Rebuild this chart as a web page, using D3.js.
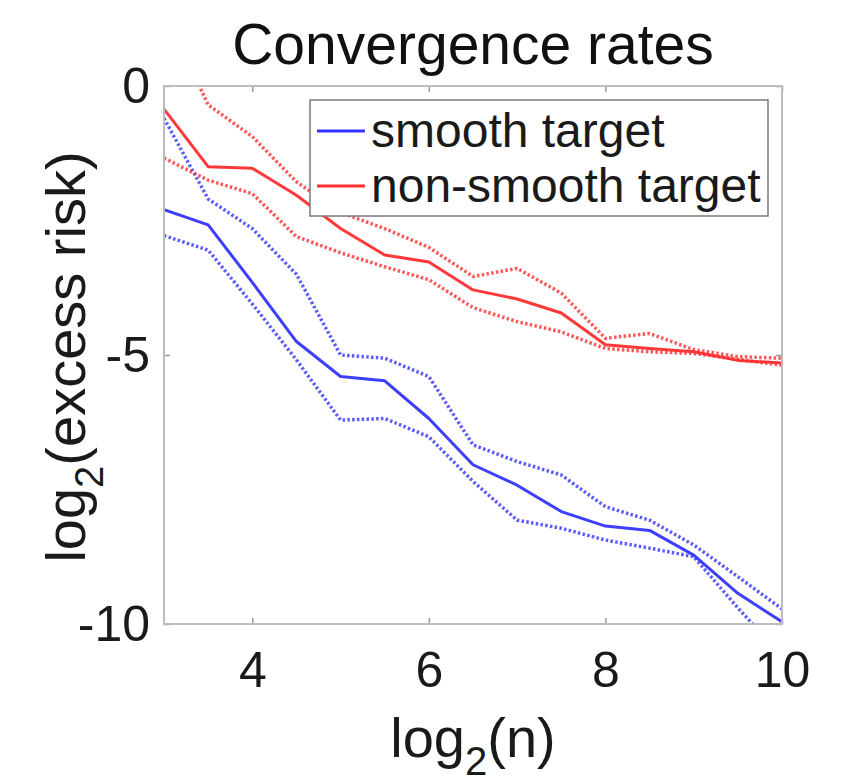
<!DOCTYPE html>
<html>
<head>
<meta charset="utf-8">
<script src="https://cdn.jsdelivr.net/npm/d3@7"></script>
<style>
  html, body { margin: 0; padding: 0; background: #fff; }
  svg { display: block; font-family: "Liberation Sans", Arial, Helvetica, sans-serif; }
</style>
</head>
<body>
<svg id="chart" width="861" height="783"></svg>
<script>
// ---- data ----
const logN = [3, 3.5, 4, 4.5, 5, 5.5, 6, 6.5, 7, 7.5, 8, 8.5, 9, 9.5, 10];

const smoothMean  = [-2.30, -2.58, -3.65, -4.75, -5.40, -5.48, -6.18, -7.04, -7.42, -7.91, -8.18, -8.26, -8.72, -9.43, -9.96];
const smoothUpper = [-0.60, -2.10, -2.65, -3.50, -5.00, -5.06, -5.40, -6.67, -6.98, -7.23, -7.82, -8.07, -8.53, -9.12, -9.72];
const smoothLower = [-2.78, -3.05, -4.05, -5.09, -6.21, -6.18, -6.52, -7.35, -8.07, -8.22, -8.44, -8.59, -8.75, -9.70, -10.60];

const nonSmoothMean  = [-0.43, -1.50, -1.53, -2.03, -2.65, -3.14, -3.27, -3.79, -3.96, -4.22, -4.81, -4.88, -4.94, -5.10, -5.15];
const nonSmoothUpper = [1.40, -0.35, -0.94, -1.78, -2.35, -2.65, -3.00, -3.54, -3.39, -3.85, -4.69, -4.60, -4.90, -5.03, -5.06];
const nonSmoothLower = [-1.34, -1.75, -2.00, -2.80, -3.10, -3.36, -3.60, -4.12, -4.38, -4.57, -4.88, -4.94, -4.97, -5.08, -5.19];

const xTicks = [4, 6, 8, 10];
const yTicks = [0, -5, -10];
const seriesNames = ["smooth target", "non-smooth target"];
const seriesColors = ["#3434ff", "#ff2e2e"];
const titleText = "Convergence rates";

// ---- layout ----
const svg = d3.select("#chart");
const L = 164, R = 782, T = 86, B = 624;
const x = d3.scaleLinear().domain([3, 10]).range([L, R]);
const y = d3.scaleLinear().domain([-10, 0]).range([B, T]);

svg.append("defs").append("clipPath").attr("id", "plotclip")
  .append("rect").attr("x", L).attr("y", T).attr("width", R - L).attr("height", B - T);

// box
svg.append("rect").attr("x", L).attr("y", T).attr("width", R - L).attr("height", B - T)
  .attr("fill", "#fff").attr("stroke", "#bdbdbd").attr("stroke-width", 2);

// axes
const axB = svg.append("g").attr("transform", `translate(0,${B})`)
  .call(d3.axisBottom(x).tickValues(xTicks).tickSizeInner(-6).tickSizeOuter(0).tickPadding(27.5).tickFormat(d => String(d)));
const axT = svg.append("g").attr("transform", `translate(0,${T})`)
  .call(d3.axisTop(x).tickValues(xTicks).tickSizeInner(-6).tickSizeOuter(0).tickFormat(""));
const axL = svg.append("g").attr("transform", `translate(${L},0)`)
  .call(d3.axisLeft(y).tickValues(yTicks).tickSizeInner(-6).tickSizeOuter(0).tickPadding(14).tickFormat(d => String(d)));
const axR = svg.append("g").attr("transform", `translate(${R},0)`)
  .call(d3.axisRight(y).tickValues(yTicks).tickSizeInner(-6).tickSizeOuter(0).tickFormat(""));
[axB, axT, axL, axR].forEach(g => {
  g.select(".domain").remove();
  g.selectAll(".tick line").attr("stroke", "#9a9a9a").attr("stroke-width", 1.5);
  g.selectAll(".tick text").attr("fill", "#1a1a1a").style("font-size", "50px")
    .style("font-family", '"Liberation Sans", Arial, sans-serif');
});

// lines
const line = d3.line().x((d, i) => x(logN[i])).y(d => y(d));
const plot = svg.append("g").attr("clip-path", "url(#plotclip)");
const bands = [
  { vals: smoothUpper, c: 0, dotted: true },
  { vals: smoothLower, c: 0, dotted: true },
  { vals: nonSmoothUpper, c: 1, dotted: true },
  { vals: nonSmoothLower, c: 1, dotted: true },
  { vals: smoothMean, c: 0, dotted: false },
  { vals: nonSmoothMean, c: 1, dotted: false }
];
bands.forEach(b => {
  plot.append("path").datum(b.vals).attr("d", line)
    .attr("fill", "none")
    .attr("stroke", seriesColors[b.c])
    .attr("stroke-width", b.dotted ? 3.5 : 3)
    .attr("stroke-linejoin", "round")
    .attr("stroke-opacity", b.dotted ? 0.8 : 0.95)
    .attr("stroke-dasharray", b.dotted ? "2.5,2.3" : null);
});

// redraw box edges on top
svg.append("rect").attr("x", L).attr("y", T).attr("width", R - L).attr("height", B - T)
  .attr("fill", "none").attr("stroke", "#bdbdbd").attr("stroke-width", 2);

// legend
const lg = svg.append("g");
lg.append("rect").attr("x", 310).attr("y", 100).attr("width", 458).attr("height", 116)
  .attr("fill", "#fff").attr("stroke", "#7a7a7a").attr("stroke-width", 1.5);
const legY = [131, 186];
seriesNames.forEach((name, i) => {
  lg.append("line").attr("x1", 317).attr("x2", 365).attr("y1", legY[i]).attr("y2", legY[i])
    .attr("stroke", seriesColors[i]).attr("stroke-width", 3);
  lg.append("text").attr("x", 371).attr("y", legY[i] + 16)
    .attr("fill", "#1a1a1a").style("font-size", "48px").text(name);
});

// title
svg.append("text").attr("x", (L + R) / 2).attr("y", 64).attr("text-anchor", "middle")
  .attr("fill", "#111").style("font-size", "57px").text(titleText);

// x label
const xl = svg.append("text").attr("x", (L + R) / 2).attr("y", 757).attr("text-anchor", "middle")
  .attr("fill", "#1a1a1a").style("font-size", "56px");
xl.append("tspan").text("log");
xl.append("tspan").attr("dy", 18).style("font-size", "40px").text("2");
xl.append("tspan").attr("dy", -18).text("(n)");

// y label
const yl = svg.append("text").attr("transform", `translate(85,${(T + B) / 2 + 2}) rotate(-90)`)
  .attr("text-anchor", "middle").attr("fill", "#1a1a1a").style("font-size", "56px");
yl.append("tspan").text("log");
yl.append("tspan").attr("dy", 18).style("font-size", "40px").text("2");
yl.append("tspan").attr("dy", -18).text("(excess risk)");
</script>
</body>
</html>
